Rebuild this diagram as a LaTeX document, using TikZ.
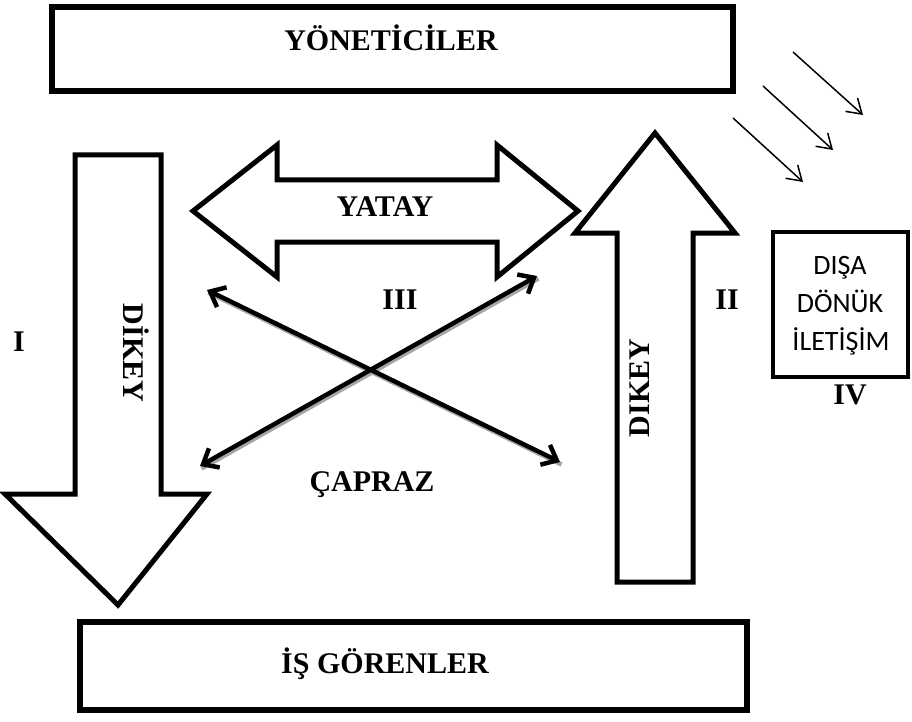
\documentclass[tikz,border=0pt]{standalone}
\usepackage{fontspec}
\setmainfont{Liberation Serif}
\newfontfamily\calib{Carlito}
\usetikzlibrary{arrows.meta}
\begin{document}
\begin{tikzpicture}[x=1pt,y=-1pt,
  box/.style={draw, line width=6pt, inner sep=0pt, outer sep=0pt},
  blockarrow/.style={draw, line width=5pt, line join=miter, miter limit=20, fill=white},
  lbl/.style={font=\fontsize{30}{36}\selectfont\bfseries, inner sep=0pt},
  sidelbl/.style={font=\calib\fontsize{28}{34}\selectfont, inner sep=0pt},
  xarrow/.style={line width=4.5pt, {Straight Barb[length=13pt,width=22pt]}-{Straight Barb[length=13pt,width=22pt]}},
  xshadow/.style={line width=4.5pt, draw=black!35},
  thinarrow/.style={line width=1.5pt, -{Straight Barb[length=14pt,width=18pt]}}
]
\useasboundingbox (0,0) rectangle (912,722);

% boxes
\node[box, minimum width=681pt, minimum height=84pt] (mgr) at (392.5,49) {};
\node[box, minimum width=667pt, minimum height=88pt] (emp) at (413.5,666) {};
\node[box, line width=4.5pt, minimum width=135pt, minimum height=145pt] (ext) at (840.5,304.5) {};

% block arrows
\draw[blockarrow] (75,155) -- (161,155) -- (161,494) -- (207,494) -- (118,605) -- (5,494) -- (75,494) -- cycle;
\draw[blockarrow] (617,582) -- (617,233) -- (575,233) -- (655,133) -- (735,233) -- (693,233) -- (693,582) -- cycle;
\draw[blockarrow] (193,211) -- (277,145) -- (277,180) -- (497,180) -- (497,145) -- (578,211) -- (497,277) -- (497,242) -- (277,242) -- (277,277) -- cycle;

% cross arrows
\coordinate (a1) at (207,290);
\coordinate (a2) at (560,462);
\coordinate (b1) at (200,466);
\coordinate (b2) at (537,276);
\draw[xshadow] ([shift={(1.5,2.5)}]a1) -- ([shift={(1.5,2.5)}]a2);
\draw[xshadow] ([shift={(1.5,2.5)}]b1) -- ([shift={(1.5,2.5)}]b2);
\draw[xarrow] (a1) -- (a2);
\draw[xarrow] (b1) -- (b2);

% thin arrows
\coordinate (t1) at (793,52);  \coordinate (h1) at (863,115);
\coordinate (t2) at (763,86);  \coordinate (h2) at (833,150);
\coordinate (t3) at (733,118); \coordinate (h3) at (803,182);
\draw[thinarrow] (t1) -- (h1);
\draw[thinarrow] (t2) -- (h2);
\draw[thinarrow] (t3) -- (h3);

% labels
\node[lbl, anchor=base] (lmgr) at (391,51) {YÖNETİCİLER};
\node[lbl, anchor=base] (lemp) at (385,673) {İŞ GÖRENLER};
\node[lbl, anchor=base] (lyat) at (385,216) {YATAY};
\node[lbl, anchor=base] (lcap) at (372,491) {ÇAPRAZ};
\node[lbl, anchor=base, rotate=-90] (ldik1) at (123,353) {DİKEY};
\node[lbl, anchor=base, rotate=90] (ldik2) at (649,388) {DIKEY};
\node[lbl, anchor=base] (n1) at (19,351) {I};
\node[lbl, anchor=base] (n2) at (727,309) {II};
\node[lbl, anchor=base] (n3) at (400,309) {III};
\node[lbl, anchor=base] (n4) at (850,404) {IV};
\node[sidelbl, anchor=base] (e1) at (840,274) {DIŞA};
\node[sidelbl, anchor=base] (e2) at (840,312) {DÖNÜK};
\node[sidelbl, anchor=base] (e3) at (841,350) {İLETİŞİM};
\end{tikzpicture}
\end{document}
